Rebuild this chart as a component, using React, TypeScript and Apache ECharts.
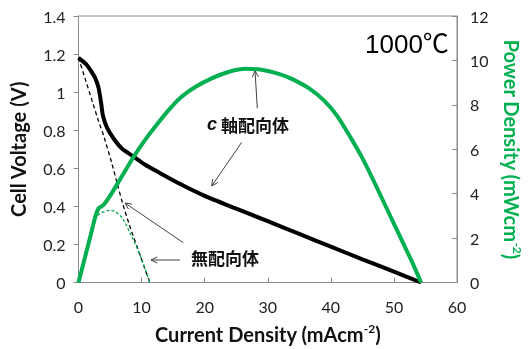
import React, { useEffect, useRef } from "react";
import * as echarts from "echarts";

// c-axis oriented: cell voltage vs current density
const cCurrent = [0, 1.2, 2.0, 2.7, 3.2, 3.6, 3.85, 4.5, 5.7, 7, 8.8, 10.5, 12.8, 16.2, 20, 25, 30, 35, 40, 45, 50, 54.3];
const cVoltage = [1.18, 1.147, 1.11, 1.07, 1.02, 0.94, 0.88, 0.815, 0.75, 0.7, 0.66, 0.62, 0.577, 0.516, 0.455, 0.388, 0.322, 0.255, 0.188, 0.122, 0.057, 0];

// c-axis oriented: power density
const cPowCurrent = [0, 1.5, 2.7, 3.2, 3.6, 4.0, 5.0, 6.5, 8.5, 10.5, 12.8, 14.5, 16.2, 18.5, 21.2, 24, 26.5, 29, 31.5, 33.8, 36.5, 38.9, 41, 43.4, 45, 46.5, 48, 49.5, 51.5, 53, 54.3];
const cPower = [0, 1.65, 3.0, 3.35, 3.42, 3.5, 3.9, 4.6, 5.55, 6.4, 7.25, 7.83, 8.33, 8.8, 9.2, 9.5, 9.62, 9.58, 9.42, 9.17, 8.75, 8.2, 7.5, 6.4, 5.6, 4.75, 3.85, 2.95, 1.75, 0.85, 0];

// non-oriented: cell voltage
const nCurrent = [0, 1.2, 2.2, 3.2, 4.0, 5.26, 6.3, 7.0, 8.29, 9.8, 11.3];
const nVoltage = [1.18, 1.055, 0.95, 0.845, 0.77, 0.629, 0.5, 0.415, 0.28, 0.14, 0];

// non-oriented: power density
const nPowCurrent = [0, 1.5, 2.7, 3.7, 5.2, 6.8, 8.3, 9.8, 11.3];
const nPower = [0, 1.6, 2.9, 3.15, 3.25, 2.95, 2.15, 1.2, 0];

const xTicks = { min: 0, max: 60, interval: 10 };
const vTicks = { min: 0, max: 1.4, interval: 0.2 };
const pTicks = { min: 0, max: 12, interval: 2 };

const GREEN = "#00B050";
const AXIS = "#8c8c8c";
const FONT = "Lato, 'Noto Sans', sans-serif";

function pairs(xs: number[], ys: number[]) {
  return xs.map((x, i) => [x, ys[i]]);
}

function arrow(x1: number, y1: number, x2: number, y2: number) {
  const ang = Math.atan2(y2 - y1, x2 - x1);
  const L = 7;
  const a = Math.PI / 7;
  const p1 = [x2 - L * Math.cos(ang - a), y2 - L * Math.sin(ang - a)];
  const p2 = [x2 - L * Math.cos(ang + a), y2 - L * Math.sin(ang + a)];
  return [
    { type: "line", shape: { x1, y1, x2, y2 }, style: { stroke: "#404040", lineWidth: 1 } },
    { type: "polyline", shape: { points: [p1, [x2, y2], p2] }, style: { stroke: "#404040", lineWidth: 1, fill: null } },
  ];
}

export default function App() {
  const ref = useRef<HTMLDivElement>(null);
  useEffect(() => {
    if (!ref.current) return;
    const chart = echarts.init(ref.current, null, { renderer: "svg" });
    const labelStyle = { fontFamily: FONT, fontSize: 16, color: "#222" };
    const titleRich = {
      b: { fontFamily: FONT, fontSize: 20, fontWeight: "bold", lineHeight: 23 },
      sup: { fontFamily: FONT, fontSize: 12, fontWeight: "bold", verticalAlign: "top", lineHeight: 12 },
    };
    chart.setOption({
      animation: false,
      grid: { left: 73, top: 16, width: 396, height: 270, show: true, borderColor: AXIS, borderWidth: 1, containLabel: false },
      xAxis: {
        type: "value",
        ...xTicks,
        name: "{b|Current Density (mAcm}{sup|-2}{b|)}",
        nameLocation: "middle",
        nameGap: 40,
        nameTextStyle: { color: "#111", rich: { b: { ...titleRich.b, color: "#111" }, sup: { ...titleRich.sup, color: "#111" } } },
        axisLine: { lineStyle: { color: AXIS } },
        axisTick: { inside: true, length: 5, lineStyle: { color: AXIS } },
        axisLabel: { ...labelStyle, margin: 16 },
        splitLine: { show: false },
      },
      yAxis: [
        {
          type: "value",
          ...vTicks,
          name: "{b|Cell Voltage (V)}",
          nameLocation: "middle",
          nameRotate: 90,
          nameGap: 49,
          nameTextStyle: { color: "#111", rich: { b: { ...titleRich.b, color: "#111" } } },
          axisLine: { show: true, lineStyle: { color: AXIS } },
          axisTick: { show: true, inside: false, length: 5, lineStyle: { color: AXIS } },
          axisLabel: { ...labelStyle, margin: 13, formatter: (v: number) => String(Math.round(v * 10) / 10) },
          splitLine: { show: false },
        },
        {
          type: "value",
          ...pTicks,
          position: "right",
          name: "{b|Power Density (mWcm}{sup|-2}{b|)}",
          nameLocation: "middle",
          nameRotate: -90,
          nameGap: 43,
          nameTextStyle: { color: GREEN, rich: { b: { ...titleRich.b, color: GREEN }, sup: { ...titleRich.sup, color: GREEN } } },
          axisLine: { show: true, lineStyle: { color: AXIS } },
          axisTick: { show: true, inside: true, length: 5, lineStyle: { color: AXIS } },
          axisLabel: { ...labelStyle, margin: 13 },
          splitLine: { show: false },
        },
      ],
      series: [
        {
          type: "line",
          name: "c-axis voltage",
          yAxisIndex: 0,
          data: pairs(cCurrent, cVoltage),
          showSymbol: false,
          smooth: 0.2,
          lineStyle: { color: "#000", width: 4 },
          z: 3,
        },
        {
          type: "line",
          name: "non-oriented voltage",
          yAxisIndex: 0,
          data: pairs(nCurrent, nVoltage),
          showSymbol: false,
          smooth: 0.2,
          lineStyle: { color: "#000", width: 1.3, type: [4, 3] },
          z: 2,
        },
        {
          type: "line",
          name: "c-axis power",
          yAxisIndex: 1,
          data: pairs(cPowCurrent, cPower),
          showSymbol: false,
          smooth: 0.2,
          lineStyle: { color: GREEN, width: 4 },
          z: 4,
        },
        {
          type: "line",
          name: "non-oriented power",
          yAxisIndex: 1,
          data: pairs(nPowCurrent, nPower),
          showSymbol: false,
          smooth: 0.3,
          lineStyle: { color: GREEN, width: 1.3, type: [3, 2] },
          z: 2,
        },
      ],
      graphic: [
        {
          type: "text",
          x: 365,
          y: 44,
          style: { text: "1000℃", fontSize: 26, fontFamily: "'Liberation Sans', 'Noto Sans CJK JP', sans-serif", fill: "#000", align: "left", verticalAlign: "middle" },
        },
        {
          type: "text",
          x: 248,
          y: 124,
          style: {
            text: "{i|c} 軸配向体",
            fontSize: 17,
            fontWeight: "bold",
            fontFamily: "'Noto Sans CJK JP', sans-serif",
            fill: "#111",
            align: "center",
            verticalAlign: "middle",
            rich: { i: { fontSize: 18, fontStyle: "italic", fontWeight: "bold", fontFamily: "'Liberation Sans', sans-serif", fill: "#111" } },
          },
        },
        {
          type: "text",
          x: 225,
          y: 257,
          style: { text: "無配向体", fontSize: 17, fontWeight: "bold", fontFamily: "'Noto Sans CJK JP', sans-serif", fill: "#111", align: "center", verticalAlign: "middle" },
        },
        ...arrow(257.3, 108.3, 255, 70.7),
        ...arrow(241.7, 142.3, 211.7, 186),
        ...arrow(183.3, 242.7, 125, 203),
        ...arrow(180, 260, 151, 260),
      ],
    });
    return () => chart.dispose();
  }, []);
  return <div ref={ref} style={{ position: "fixed", left: 0, top: 0, width: 531, height: 349 }} />;
}
